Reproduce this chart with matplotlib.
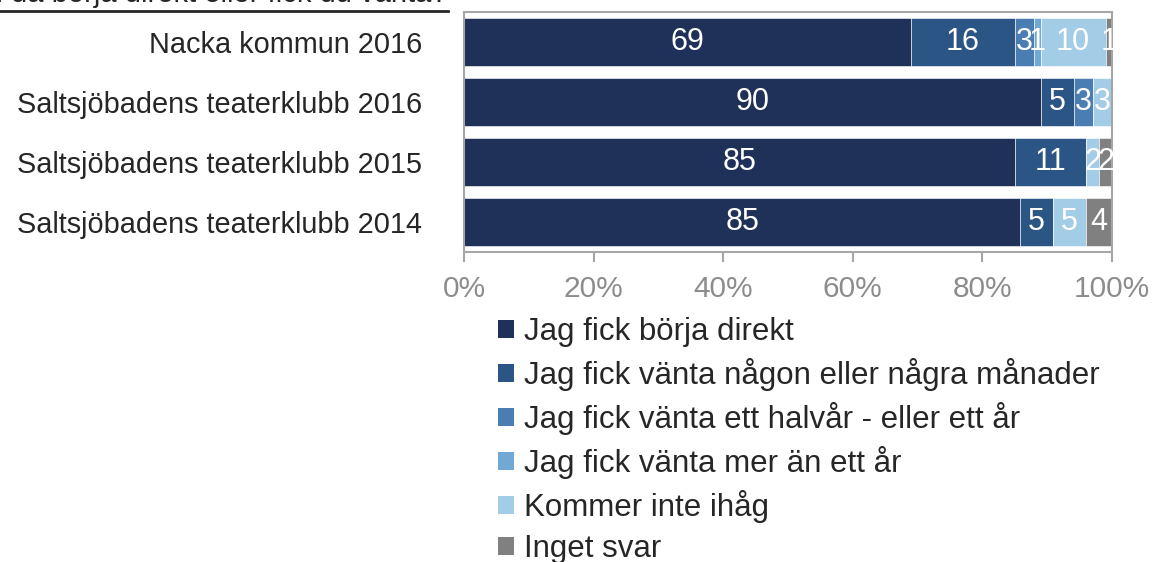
import matplotlib
matplotlib.use("Agg")
import matplotlib.pyplot as plt
from matplotlib.lines import Line2D
from matplotlib.patches import Patch
import numpy as np

plt.rcParams['font.family'] = ['Liberation Sans', 'DejaVu Sans']

categories = ["Nacka kommun 2016", "Saltsjöbadens teaterklubb 2016",
              "Saltsjöbadens teaterklubb 2015", "Saltsjöbadens teaterklubb 2014"]
series_names = ["Jag fick börja direkt",
                "Jag fick vänta någon eller några månader",
                "Jag fick vänta ett halvår - eller ett år",
                "Jag fick vänta mer än ett år",
                "Kommer inte ihåg",
                "Inget svar"]
direkt = [69, 90, 85, 85]
manader = [16, 5, 11, 5]
halvar = [3, 3, 0, 0]
mer_an_ar = [1, 0, 0, 0]
minns_ej = [10, 3, 2, 5]
inget_svar = [1, 0, 2, 4]
colors = ["#203159", "#2b5585", "#4a7db2", "#72a9d4", "#a3cce6", "#808080"]
xtick_labels = ["0%", "20%", "40%", "60%", "80%", "100%"]
title = "Fick du då börja direkt eller fick du vänta?"

data = np.array([direkt, manader, halvar, mer_an_ar, minns_ej, inget_svar], dtype=float)
totals = data.sum(axis=0)
shares = data / totals * 100

W, H = 1167, 562
fig = plt.figure(figsize=(W / 100, H / 100), dpi=100)
ax = fig.add_axes([464 / W, 1 - 252 / H, (1112 - 464) / W, (252 - 12) / H])

y = np.arange(len(categories))
left = np.zeros(len(categories))
for i in range(len(series_names)):
    ax.barh(y, shares[i], left=left, height=0.8, color=colors[i],
            edgecolor='white', linewidth=0.4, label=series_names[i])
    for j in range(len(categories)):
        if data[i, j] > 0:
            ax.text(left[j] + shares[i, j] / 2, y[j], f"{int(data[i, j])}",
                    ha='center', va='center', color='white', fontsize=22)
    left += shares[i]

ax.set_xlim(0, 100)
ax.set_ylim(len(categories) - 0.5, -0.5)
ax.set_yticks(y)
ax.set_yticklabels(categories, fontsize=20.8, color='#262626')
ax.set_xticks(np.arange(0, 101, 20))
ax.set_xticklabels(xtick_labels, fontsize=21.5, color='#8c8c8c')
ax.tick_params(axis='y', length=0, pad=30)
ax.tick_params(axis='x', length=7.5, width=1.5, color='#a6a6a6', pad=9)
for s in ax.spines.values():
    s.set_color('#a6a6a6')
    s.set_linewidth(1.5)

handles = [Patch(facecolor=c, edgecolor='none') for c in colors]
fig.legend(handles, series_names, loc='upper left',
           bbox_to_anchor=(498 / W, 1 - 317 / H), frameon=False,
           fontsize=22.5, handlelength=0.52, handleheight=0.52,
           handletextpad=0.3, labelspacing=0.35, labelcolor='#262626',
           borderpad=0, borderaxespad=0)

fig.text(448 / W, 1 - 2.5 / H, title, ha='right', va='baseline', fontsize=21,
         color='#262626')
fig.add_artist(Line2D([0, 448 / W], [1 - 10.5 / H, 1 - 10.5 / H],
                      color='#262626', linewidth=2, transform=fig.transFigure))

fig.savefig("out.png", dpi=100)
